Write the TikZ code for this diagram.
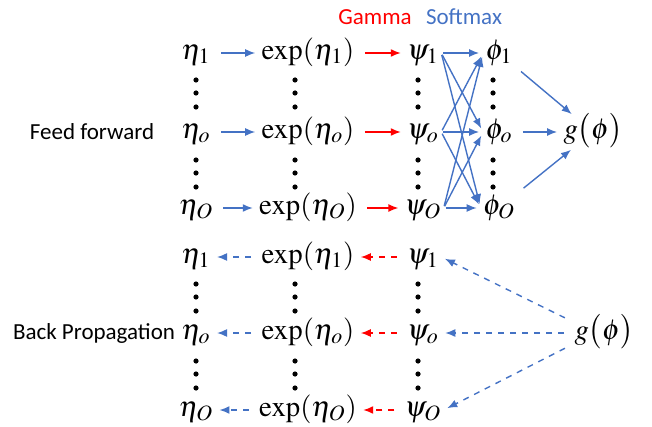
\documentclass[tikz,border=0pt]{standalone}
\usepackage[no-math]{fontspec}
\usepackage{mathptmx}
\newfontfamily\labelfont{Carlito}
\usetikzlibrary{arrows.meta}
\definecolor{softblue}{HTML}{4472C4}
\definecolor{gammared}{HTML}{FF0000}
\tikzset{
	var/.style={font=\Large, text height=2.2ex, text depth=0.8ex, inner sep=1pt},
	lab/.style={font=\labelfont\fontsize{11.5}{13}\selectfont, inner sep=0pt},
	fwd/.style={-{Latex[length=5pt,width=4pt]}, line width=0.7pt, shorten <=4pt, shorten >=2pt},
	bwd/.style={fwd, dashed},
}
\begin{document}
\begin{tikzpicture}[x=0.5pt, y=-0.5pt]
	\useasboundingbox (0,0) rectangle (652,427);

	% feed forward
	\node[lab] (feed) at (92,132) {Feed forward};
	\node[lab, text=gammared] (gam) at (375,17) {Gamma};
	\node[lab, text=softblue] (soft) at (464,17) {Softmax};
	\foreach \i/\y in {1/53, o/132, O/208} {
		\node[var] (e\i) at (196,\y) {$\eta_{\i}$};
		\node[var] (x\i) at (308,\y) {$\exp(\eta_{\i})$};
		\node[var] (p\i) at (423,\y) {$\psi_{\i}$};
		\node[var] (f\i) at (499,\y) {$\phi_{\i}$};
		\draw[fwd, softblue] (e\i) -- (x\i);
		\draw[fwd, gammared] (x\i) -- (p\i);
	}
	\node[var] (g) at (593,132) {$g\bigl(\phi\bigr)$};
	\foreach \i in {1,o,O} {
		\foreach \j in {1,o,O}
			\draw[fwd, softblue, shorten <=1pt] (p\i.east) -- (f\j.west);
		\draw[fwd, softblue] (f\i) -- (g);
	}

	% back propagation
	\node[lab] (back) at (94,333) {Back Propagation};
	\foreach \i/\y in {1/257, o/333, O/410} {
		\node[var] (be\i) at (196,\y) {$\eta_{\i}$};
		\node[var] (bx\i) at (308,\y) {$\exp(\eta_{\i})$};
		\node[var] (bp\i) at (423,\y) {$\psi_{\i}$};
		\draw[bwd, softblue] (bx\i) -- (be\i);
		\draw[bwd, gammared] (bp\i) -- (bx\i);
	}
	\node[var] (bg) at (604,333) {$g\bigl(\phi\bigr)$};
	\draw[bwd, softblue] (bg.160) -- (bp1.east);
	\draw[bwd, softblue] (bg.west) -- (bpo.east);
	\draw[bwd, softblue] (bg.200) -- (bpO.east);

	% dots
	\foreach \x in {196,295,418,493}
		\foreach \y in {80,93,107,160,173,187}
			\fill (\x,\y) circle (1.3pt);
	\foreach \x in {196,295,418}
		\foreach \y in {284,297,311,361,374,388}
			\fill (\x,\y) circle (1.3pt);
\end{tikzpicture}
\end{document}
